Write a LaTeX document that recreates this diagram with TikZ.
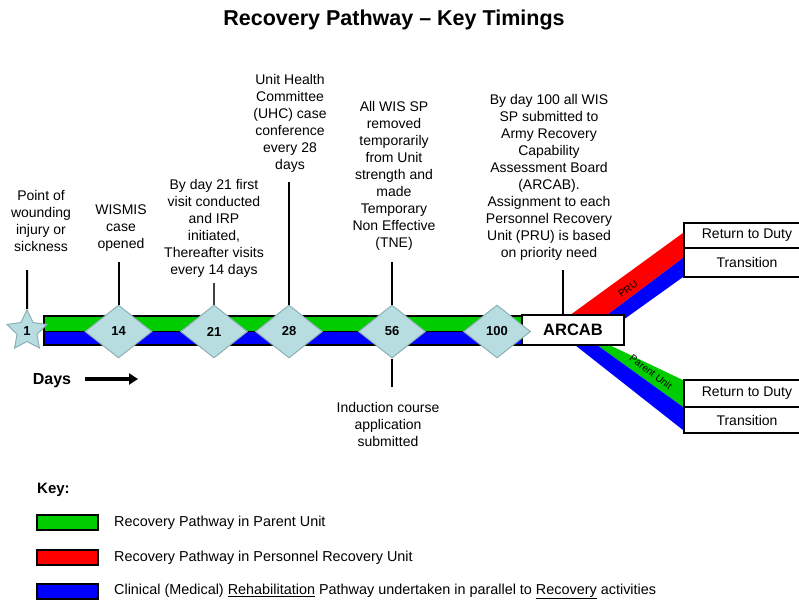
\documentclass[tikz,border=0pt]{standalone}
\usepackage{fontspec}
\setmainfont{Liberation Sans}
\usetikzlibrary{shapes.geometric,arrows.meta}
\definecolor{pgreen}{RGB}{0,204,0}
\definecolor{pred}{RGB}{255,0,0}
\definecolor{pblue}{RGB}{0,0,255}
\definecolor{dfill}{RGB}{183,221,225}
\definecolor{dborder}{RGB}{140,175,180}
\begin{document}
\begin{tikzpicture}[x=1pt,y=-1pt,
  txt/.style={align=center, font=\fontsize{14}{17}\selectfont, inner sep=0pt},
  daybox/.style={diamond, draw=dborder, fill=dfill, line width=1pt, minimum width=67pt, minimum height=53pt, inner sep=0pt, font=\fontsize{13}{15}\selectfont\bfseries},
  tick/.style={line width=2pt, black},
  outbox/.style={draw=black, line width=1.2pt, fill=white, minimum width=126pt, inner sep=0pt, font=\fontsize{14}{17}\selectfont},
  keybox/.style={draw=black, line width=1.2pt, minimum width=61pt, minimum height=15pt, inner sep=0pt},
  keytxt/.style={anchor=west, inner sep=0pt, font=\fontsize{14.4}{17}\selectfont},
  bandlbl/.style={inner sep=0pt, font=\fontsize{10}{12}\selectfont},
]
\useasboundingbox (0,0) rectangle (799,600);
\clip (0,0) rectangle (799,600);

% title
\node (title) at (394,20) {\fontsize{21.5}{24}\selectfont\bfseries Recovery Pathway – Key Timings};

% main band
\fill[pgreen] (44,316) rectangle (522,331);
\fill[pblue] (44,331) rectangle (522,345);
\draw[line width=0.8pt] (44,331) -- (522,331);
\draw[line width=1.2pt] (44,316) rectangle (522,345);

% upper branch (PRU)
\fill[pred] (565,318.8) -- (685,231.5) -- (685,256.5) -- (595,324) -- cycle;
\fill[pblue] (595,324) -- (685,256.5) -- (685,275.6) -- (610,329.3) -- cycle;
% lower branch (Parent Unit)
\fill[pgreen] (595,338.2) -- (685,381) -- (685,408.4) -- (595,343.6) -- cycle;
\fill[pblue] (595,343.6) -- (685,408.4) -- (685,431.6) -- (569,340.3) -- cycle;

\node[bandlbl, rotate=36] (lpru) at (628,289) {PRU};
\node[bandlbl, rotate=-37] (lpar) at (651,372) {Parent Unit};

% ARCAB
\node[draw=black, line width=1.2pt, fill=white, minimum width=102pt, minimum height=30pt, inner sep=0pt, font=\fontsize{16.5}{18}\selectfont\bfseries] (arcab) at (573,330) {ARCAB};

% outcome boxes
\node[outbox, minimum height=25pt] (rtd1) at (747,235.5) {Return to Duty};
\node[outbox, minimum height=29pt] (tr1) at (747,262.5) {Transition};
\node[outbox, minimum height=27pt] (rtd2) at (747,393.5) {Return to Duty};
\node[outbox, minimum height=26pt] (tr2) at (747,420) {Transition};

% milestones
\node[star, star points=5, star point ratio=2.0, minimum size=42pt, inner sep=0pt, draw=dborder, fill=dfill, line width=1pt, font=\fontsize{13}{15}\selectfont\bfseries] (d1) at (27,331) {1};
\node[daybox] (d14) at (118.5,331.5) {14};
\node[daybox] (d21) at (214,331.5) {21};
\node[daybox] (d28) at (289,331.5) {28};
\node[daybox] (d56) at (392,331.5) {56};
\node[daybox] (d100) at (497,331.5) {100};

% texts
\node[txt] (tpoint) at (41,221) {Point of\\wounding\\injury or\\sickness};
\node[txt] (twismis) at (121,228) {WISMIS\\case\\opened};
\node[txt] (t21) at (214,228) {By day 21 first\\visit conducted\\and IRP\\initiated,\\Thereafter visits\\every 14 days};
\node[txt] (t28) at (290,123) {Unit Health\\Committee\\(UHC) case\\conference\\every 28\\days};
\node[txt] (t56) at (394,175.5) {All WIS SP\\removed\\temporarily\\from Unit\\strength and\\made\\Temporary\\Non Effective\\(TNE)};
\node[txt] (t100) at (549,177) {By day 100 all WIS\\SP submitted to\\Army Recovery\\Capability\\Assessment Board\\(ARCAB).\\Assignment to each\\Personnel Recovery\\Unit (PRU) is based\\on priority need};
\node[txt] (tind) at (388,424) {Induction course\\application\\submitted};

% tick lines
\coordinate (c1) at (27,270);
\coordinate (c14) at (118.5,262);
\coordinate (c21) at (214,283);
\coordinate (c28) at (289,182);
\coordinate (c56) at (392,262);
\coordinate (c56b) at (392,387);
\coordinate (c100) at (563,270);
\draw[tick] (c1) -- (d1.north);
\draw[tick] (c14) -- (d14.north);
\draw[tick, black!75] (c21) -- (d21.north);
\draw[tick] (c28) -- (d28.north);
\draw[tick] (c56) -- (d56.north);
\draw[tick] (d56.south) -- (c56b);
\draw[tick] (c100) -- (c100 |- arcab.north);

% days arrow
\node (days) at (52,381) {\fontsize{16}{18}\selectfont\bfseries Days};
\coordinate (arrS) at (85,379);
\coordinate (arrE) at (138,379);
\draw[line width=3.5pt, -{Triangle[length=9pt,width=11pt]}] (arrS) -- (arrE);

% key
\node[anchor=west, inner sep=0pt] (keyt) at (37,490) {\fontsize{15}{17}\selectfont\bfseries Key:};
\node[keybox, fill=pgreen] (kg) at (67.5,522.5) {};
\node[keybox, fill=pred] (kr) at (67.5,557.5) {};
\node[keybox, fill=pblue] (kb) at (67.5,591.5) {};
\node[keytxt] (kgt) at (114,522.5) {Recovery Pathway in Parent Unit};
\node[keytxt] (krt) at (114,557.5) {Recovery Pathway in Personnel Recovery Unit};
\node[keytxt] (kbt) at (114,591.5) {Clinical (Medical) \underline{Rehabilitation} Pathway undertaken in parallel to \underline{Recovery} activities};
\end{tikzpicture}
\end{document}
